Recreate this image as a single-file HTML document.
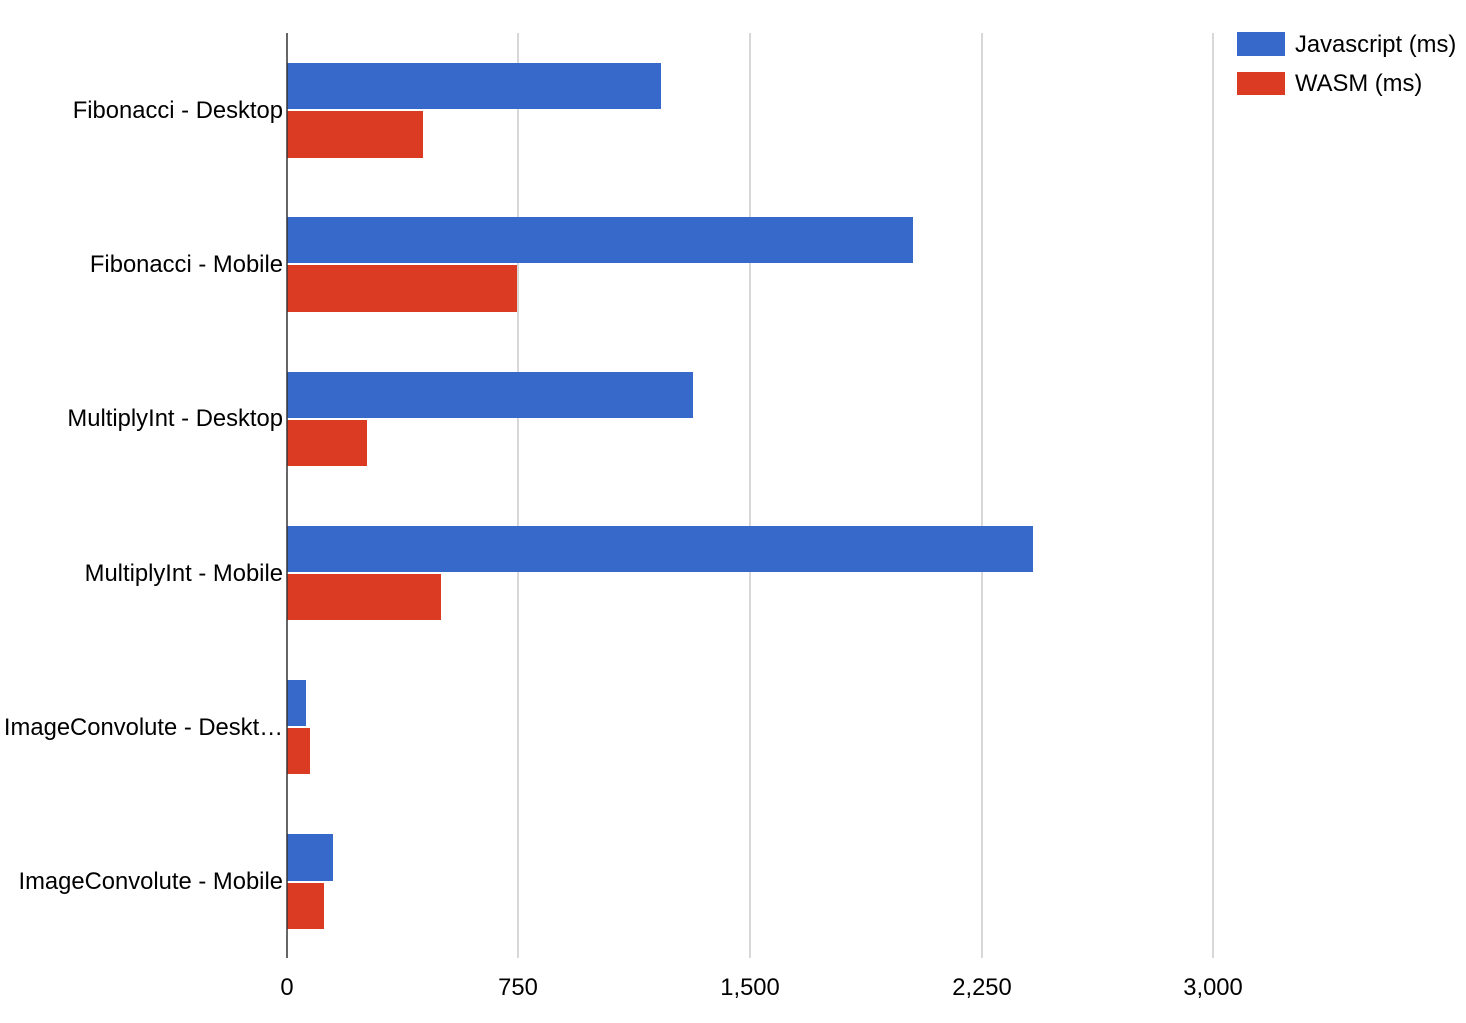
<!DOCTYPE html>
<html><head><style>body{margin:0;background:#fff}</style></head><body>
<svg width="1466" height="1018" xmlns="http://www.w3.org/2000/svg" font-family="Liberation Sans, Arial, sans-serif" font-size="23.8" fill="#000">
<rect width="1466" height="1018" fill="#fff"/>
<g stroke="#cccccc" stroke-width="1.5">
<line x1="518" y1="33" x2="518" y2="958"/>
<line x1="750" y1="33" x2="750" y2="958"/>
<line x1="982" y1="33" x2="982" y2="958"/>
<line x1="1213" y1="33" x2="1213" y2="958"/>
</g>
<g fill="#3669c9">
<rect x="287" y="63" width="374" height="46"/>
<rect x="287" y="217" width="626" height="46"/>
<rect x="287" y="372" width="406" height="46"/>
<rect x="287" y="526" width="746" height="46"/>
<rect x="287" y="680" width="19" height="46"/>
<rect x="287" y="834" width="46" height="47"/>
</g>
<g fill="#dc3b23">
<rect x="287" y="111" width="136" height="47"/>
<rect x="287" y="265" width="230" height="47"/>
<rect x="287" y="420" width="80" height="46"/>
<rect x="287" y="574" width="154" height="46"/>
<rect x="287" y="728" width="23" height="46"/>
<rect x="287" y="883" width="37" height="46"/>
</g>
<line x1="287" y1="33" x2="287" y2="958" stroke="#333" stroke-width="1.5"/>
<g text-anchor="end">
<text x="283" y="118">Fibonacci - Desktop</text>
<text x="283" y="272">Fibonacci - Mobile</text>
<text x="283" y="426">MultiplyInt - Desktop</text>
<text x="283" y="581">MultiplyInt - Mobile</text>
<text x="283" y="735">ImageConvolute - Deskt…</text>
<text x="283" y="889">ImageConvolute - Mobile</text>
</g>
<g text-anchor="middle">
<text x="287" y="995">0</text>
<text x="518" y="995">750</text>
<text x="750" y="995">1,500</text>
<text x="982" y="995">2,250</text>
<text x="1213" y="995">3,000</text>
</g>
<rect x="1237" y="32" width="48" height="24" fill="#3669c9"/>
<rect x="1237" y="72" width="48" height="23" fill="#dc3b23"/>
<text x="1295" y="52">Javascript (ms)</text>
<text x="1295" y="91">WASM (ms)</text>
</svg>
</body></html>
